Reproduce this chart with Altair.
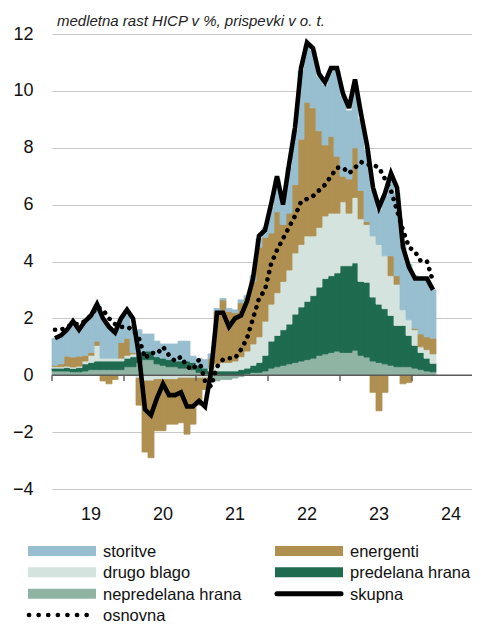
import json
import altair as alt
import pandas as pd

# ---------------- data (monthly, Jan 2019 - Apr 2024) ----------------
year_labels = ["19", "20", "21", "22", "23", "24"]

skupna = [1.3, 1.4, 1.6, 1.9, 1.6, 1.9, 2.1, 2.5, 2.0, 1.7, 1.5, 2.0,
          2.3, 2.0, 0.7, -1.2, -1.4, -0.8, -0.3, -0.7, -0.7, -0.6, -1.1, -1.1,
          -0.9, -1.1, 0.1, 2.2, 2.2, 1.7, 2.0, 2.1, 2.6, 3.4, 4.9, 5.1,
          6.0, 7.0, 6.0, 7.4, 8.7, 10.8, 11.7, 11.5, 10.6, 10.3, 10.8, 10.8,
          9.9, 9.4, 10.4, 9.2, 8.1, 6.6, 5.9, 6.4, 7.1, 6.6, 4.5, 3.8,
          3.4, 3.4, 3.4, 3.0]

osnovna = [1.6, 1.6, 1.7, 1.8, 1.8, 1.9, 2.1, 2.4, 2.3, 2.0, 1.8, 1.7,
           1.7, 1.6, 1.3, 0.6, 0.8, 0.75, 1.0, 0.7, 0.5, 0.65, 0.3, 0.2,
           0.55, -0.2, -0.4, 0.3, 0.55, 0.6, 0.6, 0.9, 1.3, 2.0, 2.7, 3.0,
           3.9, 4.4, 4.8, 5.2, 5.6, 6.1, 6.2, 6.3, 6.5, 6.7, 7.0, 7.3,
           7.3, 7.1, 7.3, 7.5, 7.4, 7.4, 7.3, 6.9, 6.5, 5.8, 5.1, 4.5,
           4.35, 4.0, 4.0, 3.3]

nepredelana = [0.15, 0.15, 0.15, 0.12, 0.12, 0.15, 0.2, 0.2, 0.2, 0.2, 0.2, 0.2,
               0.3, 0.3, 0.45, 0.55, 0.55, 0.4, 0.35, 0.3, 0.3, 0.25, 0.25, 0.2,
               0.1, 0.05, -0.2, -0.2, -0.15, -0.15, -0.1, -0.05, 0.05, 0.1, 0.1, 0.15,
               0.25, 0.3, 0.35, 0.4, 0.45, 0.5, 0.55, 0.6, 0.7, 0.75, 0.8, 0.85,
               0.8, 0.8, 0.88, 0.7, 0.64, 0.5, 0.45, 0.4, 0.35, 0.3, 0.3, 0.3,
               0.25, 0.2, 0.15, 0.12]

predelana = [0.1, 0.1, 0.12, 0.12, 0.15, 0.25, 0.25, 0.3, 0.3, 0.3, 0.3, 0.3,
             0.3, 0.35, 0.3, 0.3, 0.3, 0.25, 0.25, 0.25, 0.2, 0.25, 0.25, 0.25,
             0.25, 0.2, 0.15, 0.15, 0.15, 0.15, 0.15, 0.2, 0.2, 0.25, 0.35, 0.55,
             0.95, 1.1, 1.25, 1.4, 1.7, 1.9, 2.05, 2.2, 2.4, 2.65, 2.7, 2.75,
             3.05, 3.05, 3.07, 2.6, 2.63, 2.25, 2.05, 1.94, 1.75, 1.45, 1.45, 1.1,
             0.8, 0.6, 0.45, 0.3]

drugo_blago = [0.05, 0.05, 0.05, 0.05, 0.05, 0.1, 0.25, 0.55, 0.1, 0.1, 0.1, 0.1,
               0.1, 0.1, -0.1, -0.2, -0.2, -0.15, -0.15, -0.15, -0.15, -0.1, -0.1, -0.1,
               -0.1, -0.1, 0.1, 0.25, 0.3, 0.3, 0.35, 0.45, 0.6, 0.75, 0.9, 1.2,
               1.3, 1.5, 1.7, 1.9, 2.15, 2.2, 2.3, 2.1, 2.1, 2.2, 2.2, 2.1,
               2.25, 1.85, 2.3, 2.2, 2.03, 2.15, 2.1, 1.86, 1.4, 1.45, 0.55, 0.55,
               0.55, 0.2, 0.3, 0.33]

energenti = [0.05, 0.1, 0.35, 0.35, 0.35, 0.2, 0.1, 0.15, -0.2, -0.3, -0.15, 0.55,
             0.6, 0.05, -0.95, -2.5, -2.7, -1.8, -1.8, -1.57, -1.57, -1.57, -1.97, -1.62,
             -0.95, -0.4, 0.35, 1.85, 2.2, 1.8, 1.7, 1.9, 1.85, 2.2, 3.15, 2.95,
             2.5, 2.85, 2.0, 2.0, 2.4, 3.7, 4.7, 4.5, 3.4, 2.5, 2.7, 2.0,
             0.9, 1.2, 1.75, 1.0, 0.1, -0.6, -1.25, -0.6, 0.7, 0.3, -0.3, -0.25,
             0.05, 0.45, 0.45, 0.55]

storitve = [0.95, 1.0, 0.93, 1.26, 0.93, 1.2, 1.3, 1.3, 1.4, 1.1, 0.9, 0.85,
            0.8, 0.95, 0.85, 0.6, 0.6, 0.55, 0.5, 0.55, 0.6, 0.7, 0.7, 0.22,
            0.25, 0.3, 0.15, 0.1, 0.05, 0.1, 0.1, 0.1, 0.1, 0.2, 0.3, 0.35,
            0.9, 1.15, 0.7, 1.6, 1.9, 2.4, 2.0, 2.0, 1.9, 2.1, 2.3, 3.0,
            2.8, 2.4, 2.2, 2.5, 2.5, 1.6, 1.2, 2.1, 2.8, 2.9, 2.3, 1.95,
            1.85, 1.95, 2.0, 1.7]

series_names = ["nepredelana hrana", "predelana hrana", "drugo blago", "energenti", "storitve"]
series_colors = ["#8fb4a4", "#1f6b50", "#d4e3de", "#b09050", "#98bfcf"]
series_values = [nepredelana, predelana, drugo_blago, energenti, storitve]

legend_labels = ["storitve", "energenti", "drugo blago", "predelana hrana",
                 "nepredelana hrana", "skupna", "osnovna"]
legend_cols = [0, 1, 0, 1, 0, 1, 0]
legend_rows = [0, 0, 1, 1, 2, 2, 3]
legend_kind = ["bar", "bar", "bar", "bar", "bar", "total", "core"]

year_starts = [0, 12, 24, 36, 48, 60]
year_mids = [6, 18, 30, 42, 54, 66]
n_slots = 70

# ---------------- tables ----------------
rows = []
for k, (name, vals) in enumerate(zip(series_names, series_values)):
    for i, v in enumerate(vals):
        rows.append({"t": i, "series": name, "value": v, "ord": k})
bars_df = pd.DataFrame(rows)
lines_df = pd.DataFrame({"t": list(range(len(skupna))), "skupna": skupna, "osnovna": osnovna})
ticks_df = pd.DataFrame({"t": year_starts})
zero_df = pd.DataFrame({"y": [0]})
leg_df = pd.DataFrame({"label": legend_labels, "col": legend_cols,
                       "row": legend_rows, "kind": legend_kind})

FONT = "Liberation Sans"
xscale = alt.Scale(domain=list(range(n_slots)), paddingInner=0, paddingOuter=0)
yscale = alt.Scale(domain=[-4, 12], nice=False, zero=False)
cscale = alt.Scale(domain=series_names, range=series_colors)

label_expr = json.dumps(year_labels) + "[floor(datum.value / 12)]"

bars = alt.Chart(bars_df).mark_bar(strokeWidth=0.8).encode(
    x=alt.X("t:O", scale=xscale,
            axis=alt.Axis(values=year_mids, labelExpr=label_expr, ticks=False, domain=False,
                          labelAngle=0, labelFontSize=18, labelPadding=16, title=None,
                          grid=False, labelColor="#111111", labelFont=FONT)),
    y=alt.Y("value:Q", stack="zero", scale=yscale,
            axis=alt.Axis(values=list(range(-4, 13, 2)), grid=True, gridColor="#c8c8c8",
                          gridWidth=1, ticks=False, domain=False, labelFontSize=18,
                          labelPadding=19, title=None, labelColor="#111111", labelFont=FONT)),
    color=alt.Color("series:N", scale=cscale, legend=None),
    stroke=alt.Stroke("series:N", scale=cscale, legend=None),
    order=alt.Order("ord:Q"),
)

zero_rule = alt.Chart(zero_df).mark_rule(color="#5a5a5a", strokeWidth=1.6).encode(
    y=alt.Y("y:Q", scale=yscale))

year_ticks = alt.Chart(ticks_df).mark_rule(color="#5a5a5a", strokeWidth=1.4).encode(
    x=alt.X("t:O", scale=xscale, bandPosition=0),
    y=alt.datum(0),
    y2=alt.datum(-0.2),
)

total_line = alt.Chart(lines_df).mark_line(color="black", strokeWidth=4.6,
                                            strokeJoin="miter", strokeMiterLimit=3).encode(
    x=alt.X("t:O", scale=xscale), y=alt.Y("skupna:Q", scale=yscale))

core_line = alt.Chart(lines_df).mark_line(color="black", strokeWidth=4.6, strokeCap="round",
                                           strokeDash=[0.1, 7.5]).encode(
    x=alt.X("t:O", scale=xscale), y=alt.Y("osnovna:Q", scale=yscale))

main = alt.layer(bars, zero_rule, year_ticks, total_line, core_line)

# ---------------- legend drawn below the plot ----------------
lx = alt.Scale(domain=[0, 1], range=[-24, 223])
ly = alt.Scale(domain=[0, 3], range=[517, 581])

leg_bars = alt.Chart(leg_df).transform_filter("datum.kind === 'bar'").mark_rule(
    strokeWidth=10, strokeCap="butt", x2Offset=68).encode(
    x=alt.X("col:Q", scale=lx, axis=None), x2="col:Q",
    y=alt.Y("row:Q", scale=ly, axis=None),
    stroke=alt.Stroke("label:N", scale=cscale, legend=None))

leg_total = alt.Chart(leg_df).transform_filter("datum.kind === 'total'").mark_rule(
    strokeWidth=5, strokeCap="round", color="black", xOffset=2, x2Offset=66).encode(
    x=alt.X("col:Q", scale=lx, axis=None), x2="col:Q",
    y=alt.Y("row:Q", scale=ly, axis=None))

leg_core = alt.Chart(leg_df).transform_filter("datum.kind === 'core'").mark_rule(
    strokeWidth=4.6, strokeCap="round", color="black", strokeDash=[0.1, 9.5],
    xOffset=1, x2Offset=68).encode(
    x=alt.X("col:Q", scale=lx, axis=None), x2="col:Q",
    y=alt.Y("row:Q", scale=ly, axis=None))

leg_text = alt.Chart(leg_df).mark_text(align="left", baseline="middle", dx=75, dy=1,
                                       fontSize=16.5, font=FONT, color="#111111").encode(
    x=alt.X("col:Q", scale=lx, axis=None),
    y=alt.Y("row:Q", scale=ly, axis=None),
    text="label:N")

legend = alt.layer(leg_bars, leg_total, leg_core, leg_text)

chart = alt.layer(main, legend).resolve_scale(
    x="independent", y="independent", color="independent", stroke="independent"
).properties(
    width=420, height=455,
    autosize=alt.AutoSizeParams(type="none"),
    padding={"left": 44, "top": 26, "right": 0, "bottom": 136},
    background="white",
    title=alt.TitleParams("medletna rast HICP v %, prispevki v o. t.", anchor="start",
                          frame="group", dx=5, dy=10, offset=6, fontSize=15,
                          fontStyle="italic", fontWeight="normal", font=FONT,
                          color="#222222"),
).configure_view(stroke=None)

chart.save("out.html", embed_options={"renderer": "svg", "actions": False})
